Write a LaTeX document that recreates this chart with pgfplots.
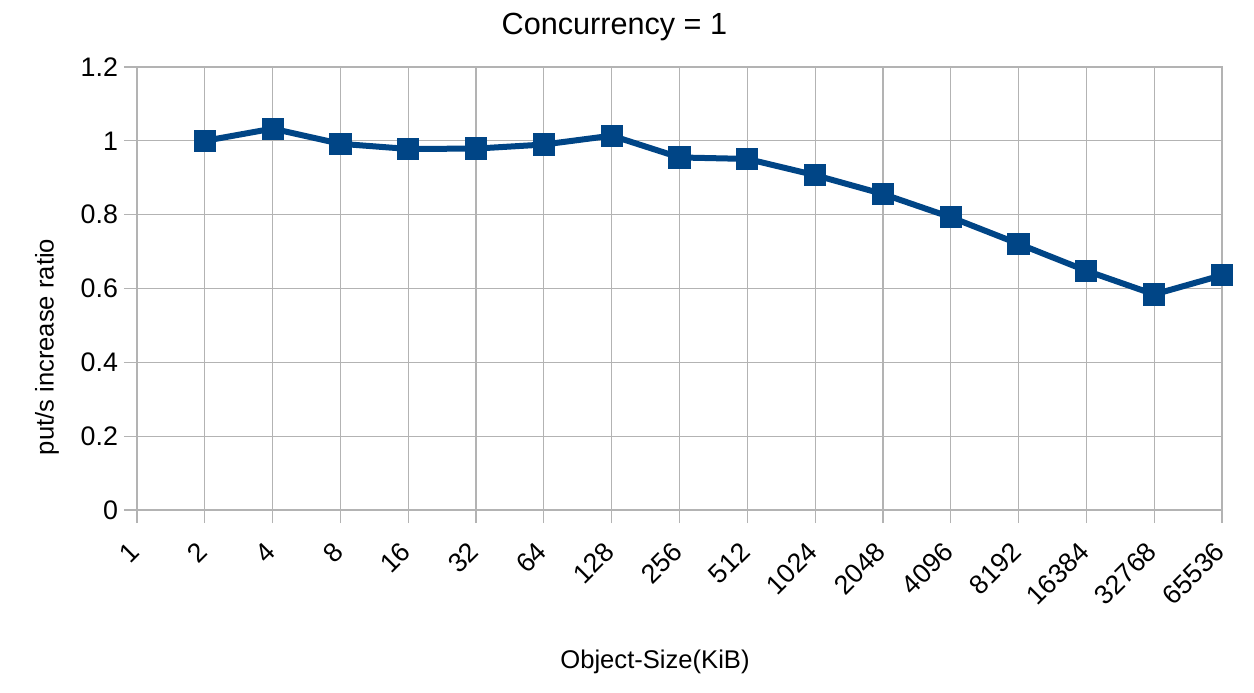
\documentclass[border=0pt]{standalone}
\usepackage{pgfplots}
\pgfplotsset{compat=1.18}
\usepackage{fontspec}
\setmainfont{Liberation Sans}
\definecolor{series}{HTML}{004586}
\definecolor{gridc}{HTML}{B3B3B3}
\begin{document}
\begin{tikzpicture}
\useasboundingbox (-68.5pt,-91pt) rectangle (558.5pt,255pt);
\begin{axis}[
  at={(0,0)}, anchor=south west,
  scale only axis, width=542.5pt, height=221.5pt,
  xmin=0, xmax=16, ymin=0, ymax=1.2,
  xtick={0,...,16},
  xticklabels={1,2,4,8,16,32,64,128,256,512,1024,2048,4096,8192,16384,32768,65536},
  ytick={0,0.2,0.4,0.6,0.8,1,1.2},
  /pgf/number format/assume math mode=true,
  yticklabel style={/pgf/number format/fixed},
  grid=major,
  grid style={draw=gridc, line width=0.6pt},
  axis line style={draw=gridc, line width=0.6pt},
  tick style={draw=gridc, line width=0.6pt},
  tick align=outside, major tick length=6.5pt,
  xtick pos=bottom, ytick pos=left,
  tick label style={font=\fontsize{13.4pt}{16pt}\selectfont, text=black},
  xticklabel style={rotate=45, anchor=east, inner sep=0pt, xshift=-9.2pt, yshift=-7.8pt},
  yticklabel style={xshift=0.5pt},
  every axis title shift=0pt,
  title={Concurrency = 1},
  title style={font=\fontsize{15.3pt}{18pt}\selectfont, at={(axis description cs:0.440,1.0903)}, anchor=center},
  xlabel={Object-Size(KiB)},
  xlabel style={font=\fontsize{12.8pt}{15pt}\selectfont, at={(axis description cs:0.4774,-0.343)}, anchor=center},
  ylabel={put/s increase ratio},
  ylabel style={font=\fontsize{12.8pt}{15pt}\selectfont, at={(axis description cs:-0.0829,0.368)}, anchor=center},
]
\addplot[color=series, line width=3pt, mark=square*, mark size=5.3pt, mark options={solid, fill=series, line width=0.5pt}]
  coordinates {
  (1,1.000) (2,1.033) (3,0.992) (4,0.978) (5,0.979) (6,0.990) (7,1.014) (8,0.955)
  (9,0.951) (10,0.907) (11,0.856) (12,0.793) (13,0.721) (14,0.648) (15,0.584) (16,0.636)
  };
\end{axis}
\end{tikzpicture}
\end{document}
